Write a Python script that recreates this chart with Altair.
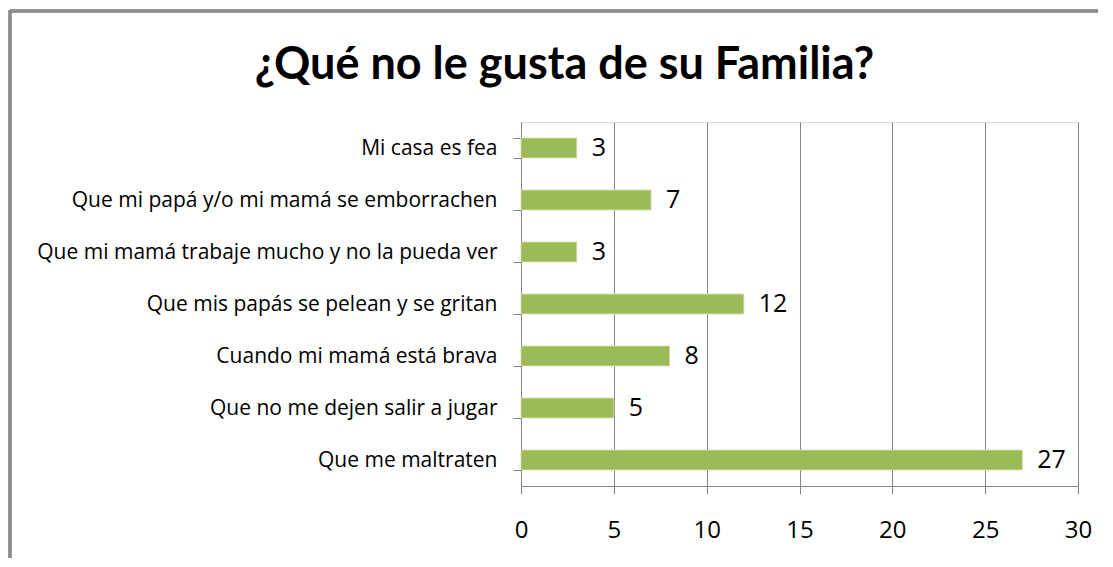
import altair as alt
import pandas as pd

categories = [
    "Mi casa es fea",
    "Que mi papá  y/o mi mamá se emborrachen",
    "Que mi mamá trabaje mucho y no la pueda ver",
    "Que mis papás se pelean y se gritan",
    "Cuando mi mamá está brava",
    "Que no me dejen salir a jugar",
    "Que me maltraten",
]
values = [3, 7, 3, 12, 8, 5, 27]
x_ticks = [0, 5, 10, 15, 20, 25, 30]

df = pd.DataFrame({"cat": categories, "val": values})

FONT = "Open Sans"
TFONT = "Lato"
GRAY = "#868686"

base = alt.Chart(df)

bars = base.mark_bar(color="#9BBB59", stroke="#C9DBA6", strokeWidth=0.8).encode(
    x=alt.X("val:Q",
            scale=alt.Scale(domain=[0, 30], nice=False),
            axis=alt.Axis(values=x_ticks, title=None, grid=True, gridColor=GRAY,
                          gridWidth=1, domainColor=GRAY, tickColor=GRAY, tickSize=8,
                          labelFont=FONT, labelFontSize=24, labelColor="#000000",
                          labelPadding=24, labelFlush=False)),
    y=alt.Y("cat:N", sort=categories,
            scale=alt.Scale(paddingInner=0.62, paddingOuter=0.31),
            axis=alt.Axis(title=None, grid=False, domainColor=GRAY, tickColor=GRAY,
                          tickSize=8, tickBand="extent", labelFont=FONT,
                          labelFontSize=21, labelColor="#000000", labelPadding=16,
                          labelLimit=600)),
)

text = base.mark_text(align="left", baseline="middle", dx=15, font=FONT,
                      fontSize=25, color="#000000").encode(
    x="val:Q",
    y=alt.Y("cat:N", sort=categories),
    text="val:Q",
)

frame_top = alt.Chart(df).mark_rule(color="#8C8C8C", strokeWidth=2.5).encode(
    x=alt.value(-511), x2=alt.value(580), y=alt.value(-111)
)
frame_left = alt.Chart(df).mark_rule(color="#8C8C8C", strokeWidth=2.5).encode(
    x=alt.value(-511), y=alt.value(-112), y2=alt.value(445)
)

chart = alt.layer(frame_top, frame_left, bars, text).properties(
    width=557,
    height=364,
    autosize=alt.AutoSizeParams(type="none"),
    padding={"left": 513, "top": 114, "right": 20, "bottom": 72},
    title=alt.TitleParams(
        "¿Qué no le gusta de su Familia?",
        font=TFONT, fontSize=45, fontWeight="bold", color="#000000",
        anchor="middle", dx=-235, offset=-115, baseline="alphabetic",
    ),
).configure_view(stroke=None).configure(background="white")

chart.save("out.html", embed_options={"renderer": "svg", "actions": False})
